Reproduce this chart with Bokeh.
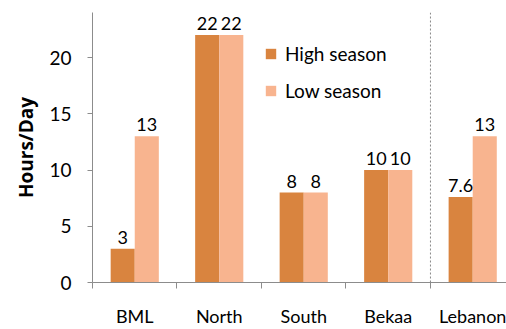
from bokeh.plotting import figure
from bokeh.models import FixedTicker, Span, Legend, LegendItem, Title, ColumnDataSource
from bokeh.core.properties import value
from bokeh.embed import file_html
from bokeh.resources import INLINE

regions = ["BML", "North", "South", "Bekaa", "Lebanon"]
high_season = [3, 22, 8, 10, 7.6]
low_season = [13, 22, 8, 10, 13]
high_labels = ["3", "22", "8", "10", "7.6"]
low_labels = ["13", "22", "8", "10", "13"]
y_ticks = [0, 5, 10, 15, 20]

FONT = "Lato"
C_HIGH = "#D9843F"
C_LOW = "#F8B48F"
AXIS_C = "#8C8C8C"

centers = [i + 0.5 for i in range(len(regions))]
bw = 0.285

p = figure(width=506, height=329, output_backend="svg", toolbar_location=None,
           x_range=(0, 4.9), y_range=(0, 24), min_border_left=92,
           min_border_right=0, min_border_top=12, min_border_bottom=47)
p.outline_line_color = None
p.xgrid.visible = False
p.ygrid.visible = False

src = ColumnDataSource(dict(
    xh=[c - bw / 2 for c in centers], xl=[c + bw / 2 for c in centers],
    high=high_season, low=low_season, hl=high_labels, ll=low_labels))

rh = p.vbar(x="xh", top="high", width=bw, source=src, fill_color=C_HIGH, line_color=None)
rl = p.vbar(x="xl", top="low", width=bw, source=src, fill_color=C_LOW, line_color=None)

p.text(x="xh", y="high", text="hl", source=src, text_align="center", text_baseline="bottom",
       y_offset=-5, text_font=value(FONT), text_font_size="18px", text_color="#000000")
p.text(x="xl", y="low", text="ll", source=src, text_align="center", text_baseline="bottom",
       y_offset=-5, text_font=value(FONT), text_font_size="18px", text_color="#000000")

p.add_layout(Span(location=4, dimension="height", line_color="#888888",
                  line_dash="2 2", line_width=1))

# x axis
xa = p.xaxis[0]
xa.ticker = FixedTicker(ticks=centers, minor_ticks=[0, 1, 2, 3, 4])
xa.major_label_overrides = {c: r for c, r in zip(centers, regions)}
xa.major_tick_out = 0
xa.major_tick_in = 0
xa.minor_tick_out = 6
xa.minor_tick_in = 0
xa.minor_tick_line_color = AXIS_C
xa.axis_line_color = AXIS_C
xa.major_label_standoff = 16
xa.major_label_text_font = FONT
xa.major_label_text_font_size = "18px"
xa.major_label_text_color = "#000000"

ya = p.yaxis[0]
ya.ticker = FixedTicker(ticks=y_ticks)
ya.major_tick_out = 5
ya.major_tick_in = 0
ya.minor_tick_out = 0
ya.minor_tick_in = 0
ya.major_tick_line_color = AXIS_C
ya.axis_line_color = AXIS_C
ya.major_label_standoff = 16
ya.major_label_text_font = FONT
ya.major_label_text_font_size = "19px"
ya.major_label_text_color = "#000000"

p.add_layout(Title(text="Hours/Day", align="center", offset=-20, standoff=15,
                   text_font="Open Sans", text_font_size="19px", text_font_style="bold",
                   text_color="#000000"), "left")

legend = Legend(items=[LegendItem(label="High season", renderers=[rh]),
                       LegendItem(label="Low season", renderers=[rl])],
                location=(172, 180), orientation="vertical")
legend.background_fill_alpha = 0
legend.border_line_color = None
legend.padding = 0
legend.margin = 0
legend.glyph_width = 13
legend.glyph_height = 13
legend.label_height = 20
legend.spacing = 14
legend.label_standoff = 8
legend.label_text_font = FONT
legend.label_text_font_size = "19px"
legend.label_text_color = "#000000"
p.add_layout(legend)

open("out.html", "w").write(file_html(p, INLINE))
